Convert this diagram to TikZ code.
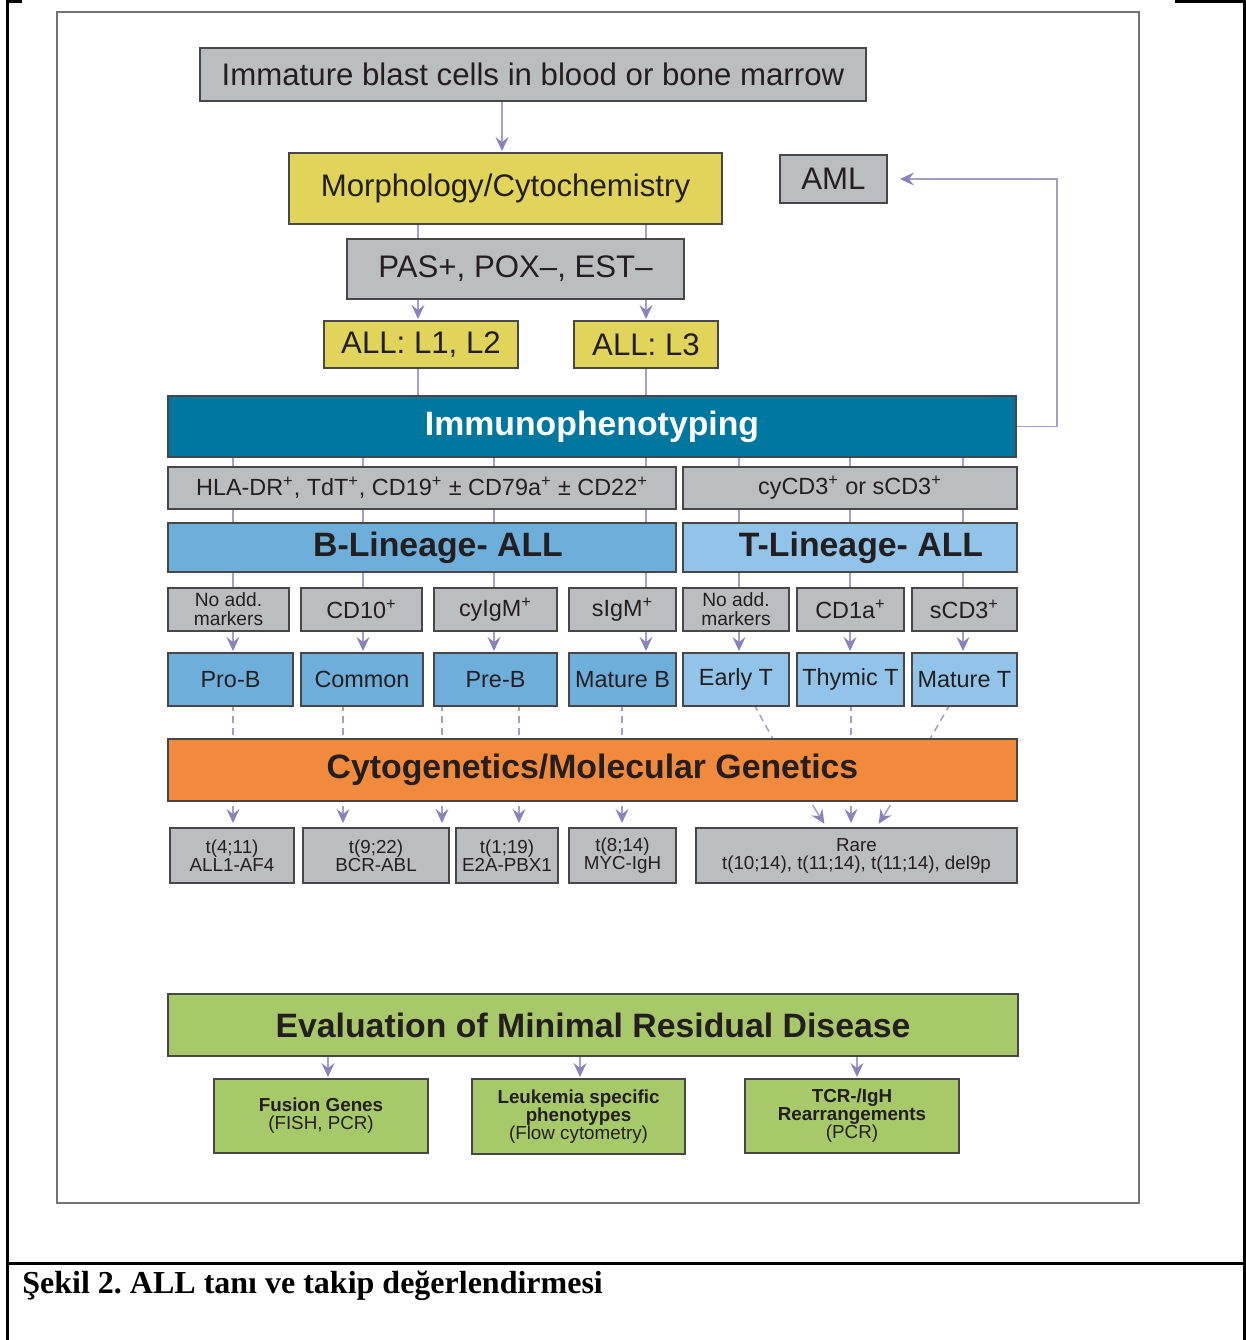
\documentclass[tikz,border=0pt]{standalone}
\usepackage{fontspec}
\setmainfont{Liberation Sans}
\newfontfamily\captionserif{Liberation Serif}
\usetikzlibrary{arrows.meta}
\definecolor{boxgray}{RGB}{188,189,192}
\definecolor{boxyel}{RGB}{224,213,90}
\definecolor{boxteal}{RGB}{0,119,158}
\definecolor{boxblue}{RGB}{110,174,219}
\definecolor{boxlblue}{RGB}{146,195,232}
\definecolor{boxorange}{RGB}{242,138,61}
\definecolor{boxgreen}{RGB}{168,201,106}
\definecolor{txt}{RGB}{35,31,32}
\definecolor{lnk}{RGB}{166,157,203}
\definecolor{tipc}{RGB}{140,130,186}
\tikzset{
    box/.style={rectangle, draw=black!72, line width=0.8pt, inner sep=0pt,
    	outer sep=0pt, text=txt, align=center},
    wh/.style 2 args={minimum width=#1*0.5pt, minimum height=#2*0.5pt}
}
\tikzset{
    big/.style={font=\fontsize{15.6}{18}\selectfont},
    head/.style={font=\fontsize{16.9}{20}\selectfont\bfseries},
    mid/.style={font=\fontsize{11.7}{13}\selectfont},
    sml/.style={font=\fontsize{9.6}{9.5}\selectfont},
    gen/.style={font=\fontsize{9.4}{9}\selectfont}
}
\tikzset{
    ln/.style={draw=lnk, line width=0.75pt},
    arr/.style={ln, -{Stealth[length=7pt, width=6.5pt, inset=2.5pt, color=tipc]},
    	shorten >=1pt},
    dl/.style={ln, dash pattern=on 3.5pt off 2.5pt, dash phase=1pt}
}
\pgfdeclarelayer{background}
\pgfsetlayers{background,main}

\begin{document}
\frenchspacing
\begin{tikzpicture}[x=0.5pt, y=-0.5pt]
  \useasboundingbox (0,0) rectangle (1246,1340);
  % frames
  \draw[line width=1.5pt] (22,1.5) -- (7,1.5) -- (7,1340);
  \draw[line width=1.5pt] (1175,1.5) -- (1244,1.5) -- (1244,1340);
  \draw[line width=1.5pt] (7,1263) -- (1246,1263);
  \draw[black!55, line width=0.75pt] (57,12) rectangle (1139,1203);

  % diagnosis
  \node (imm) [box, fill=boxgray, big, wh={666}{53}] at (533,74.5)
  	{Immature blast cells in blood or bone marrow};
  \node (morph) [box, fill=boxyel, big, wh={433}{71}] at (505.5,188.5)
  	{Morphology/Cytochemistry};
  \node (aml) [box, fill=boxgray, big, wh={107}{48}] at (833.5,179) {AML};
  \node (pas) [box, fill=boxgray, big, wh={337}{60}] at (515.5,269)
  	{PAS+, POX–, EST–};
  \node (all12) [box, fill=boxyel, big, wh={194}{47}] at (421,344.5) {ALL: L1, L2};
  \node (all3) [box, fill=boxyel, big, wh={144}{47}] at (646,344.5) {ALL: L3};

  % immunophenotyping
  \node (immuno) [box, fill=boxteal, head, text=white, wh={848}{61}] at (592,426.5)
  	{Immunophenotyping};
  \node (hla) [box, fill=boxgray, mid, wh={508}{42}] at (422,488)
  	{HLA-DR\textsuperscript{+}, TdT\textsuperscript{+}, CD19\textsuperscript{+}
  	± CD79a\textsuperscript{+} ± CD22\textsuperscript{+}};
  \node (cycd) [box, fill=boxgray, mid, wh={334}{42}] at (850,488)
  	{cyCD3\textsuperscript{+} or sCD3\textsuperscript{+}};
  \node (blin) [box, fill=boxblue, head, wh={508}{49}] at (422,547.5)
  	{\hspace*{16pt}B-Lineage- ALL};
  \node (tlin) [box, fill=boxlblue, head, wh={334}{49}] at (850,547.5)
  	{\hspace*{11pt}T-Lineage- ALL};

  % markers
  \node (nab) [box, fill=boxgray, sml, wh={121}{43}] at (228.5,609.5) {No add.\\markers};
  \node (cd10) [box, fill=boxgray, mid, wh={121}{43}] at (361.5,609.5)
  	{CD10\textsuperscript{+}};
  \node (cyigm) [box, fill=boxgray, mid, wh={123}{43}] at (495.5,609.5)
  	{cyIgM\textsuperscript{+}};
  \node (sigm) [box, fill=boxgray, mid, wh={107}{43}] at (622.5,609.5)
  	{sIgM\textsuperscript{+}};
  \node (nat) [box, fill=boxgray, sml, wh={106}{43}] at (736,609.5) {No add.\\markers};
  \node (cd1a) [box, fill=boxgray, mid, wh={107}{43}] at (850.5,609.5)
  	{CD1a\textsuperscript{+}};
  \node (scd3) [box, fill=boxgray, mid, wh={105}{43}] at (964.5,609.5)
  	{sCD3\textsuperscript{+}};

  % subtypes
  \node (prob) [box, fill=boxblue, mid, wh={125}{53}] at (230.5,679.5) {Pro-B};
  \node (common) [box, fill=boxblue, mid, wh={122}{53}] at (362,679.5) {Common};
  \node (preb) [box, fill=boxblue, mid, wh={123}{53}] at (495.5,679.5) {Pre-B};
  \node (matb) [box, fill=boxblue, mid, wh={107}{53}] at (622.5,679.5) {Mature B};
  \node (earlyt) [box, fill=boxlblue, mid, wh={106}{53}] at (736,679.5) {Early T};
  \node (thymt) [box, fill=boxlblue, mid, wh={107}{53}] at (850.5,679.5) {Thymic T};
  \node (matt) [box, fill=boxlblue, mid, wh={105}{53}] at (964.5,679.5) {Mature T};

  % genetics
  \node (cyto) [box, fill=boxorange, head, wh={849}{62}] at (592.5,770)
  	{Cytogenetics/Molecular Genetics};
  \node (t411) [box, fill=boxgray, gen, wh={124}{55}] at (232,855.5) {t(4;11)\\ALL1-AF4};
  \node (t922) [box, fill=boxgray, gen, wh={146}{55}] at (376,855.5) {t(9;22)\\BCR-ABL};
  \node (t119) [box, fill=boxgray, gen, wh={102}{55}] at (507,855.5) {t(1;19)\\E2A-PBX1};
  \node (t814) [box, fill=boxgray, gen, wh={107}{55}] at (622.5,855.5) {t(8;14)\\MYC-IgH};
  \node (rare) [box, fill=boxgray, gen, wh={321}{55}] at (856.5,855.5)
  	{Rare\\t(10;14), t(11;14), t(11;14), del9p};

  % minimal residual disease
  \node (eval) [box, fill=boxgreen, head, wh={850}{62}] at (593,1025)
  	{Evaluation of Minimal Residual Disease};
  \node (fusion) [box, fill=boxgreen, gen, wh={214}{74}] at (321,1116)
  	{\textbf{Fusion Genes}\\(FISH, PCR)};
  \node (leuk) [box, fill=boxgreen, gen, wh={213}{75}] at (578.5,1116.5)
  	{\textbf{Leukemia specific}\\\textbf{phenotypes}\\(Flow cytometry)};
  \node (tcr) [box, fill=boxgreen, gen, wh={214}{74}] at (852,1116)
  	{\textbf{TCR-/IgH}\\\textbf{Rearrangements}\\(PCR)};

  \node (cap) [anchor=base west, inner sep=0pt,
  	font=\captionserif\bfseries\fontsize{16}{18}\selectfont] at (22,1293)
  	{Şekil 2. ALL tanı ve takip değerlendirmesi};

  % columns of the connectors
  \foreach \n/\x in {m/502, l/418, r/646, b1/233, b2/363, b3/494, t1/739, t2/850,
  	t3/963, d2/343, d3/442, d4/519, d5/622, d7/851, u1/755, v1/773, u2/949, v2/930,
  	g1/810, h1/827, g2/893, h2/876, fb/1057, e1/328, e2/580, e3/857}
  	\coordinate (x\n) at (\x,0);

  \begin{pgfonlayer}{background}
  \draw[arr] (imm.south -| xm) -- (morph.north -| xm);
  \draw[arr] (morph.south -| xl) -- (all12.north -| xl);
  \draw[arr] (morph.south -| xr) -- (all3.north -| xr);
  \draw[ln] (all12.south -| xl) -- (immuno.north -| xl);
  \draw[ln] (all3.south -| xr) -- (immuno.north -| xr);
  \draw[arr, shorten >=6.5pt] (immuno.east) -- (immuno.east -| xfb) |- (aml.east);
  \foreach \c/\s in {b1/prob, b2/common, b3/preb, r/matb, t1/earlyt, t2/thymt, t3/matt}
  	\draw[arr] (immuno.south -| x\c) -- (\s.north -| x\c);
  \foreach \c/\s in {b1/prob, d2/common, d3/preb, d4/preb, d5/matb, d7/thymt}
  	\draw[dl] (\s.south -| x\c) -- (cyto.north -| x\c);
  \draw[dl] (earlyt.south -| xu1) -- (cyto.north -| xv1);
  \draw[dl] (matt.south -| xu2) -- (cyto.north -| xv2);
  \foreach \c/\s in {b1/t411, d2/t922, d3/t922, d4/t119, d5/t814, d7/rare}
  	\draw[arr, shorten <=2.5pt, shorten >=2.5pt] (cyto.south -| x\c) -- (\s.north -| x\c);
  \draw[arr, shorten <=2.5pt, shorten >=2.5pt] (cyto.south -| xg1) -- (rare.north -| xh1);
  \draw[arr, shorten <=2.5pt, shorten >=2.5pt] (cyto.south -| xg2) -- (rare.north -| xh2);
  \foreach \c/\s in {e1/fusion, e2/leuk, e3/tcr}
  	\draw[arr] (eval.south -| x\c) -- (\s.north -| x\c);
  \end{pgfonlayer}
\end{tikzpicture}
\end{document}
